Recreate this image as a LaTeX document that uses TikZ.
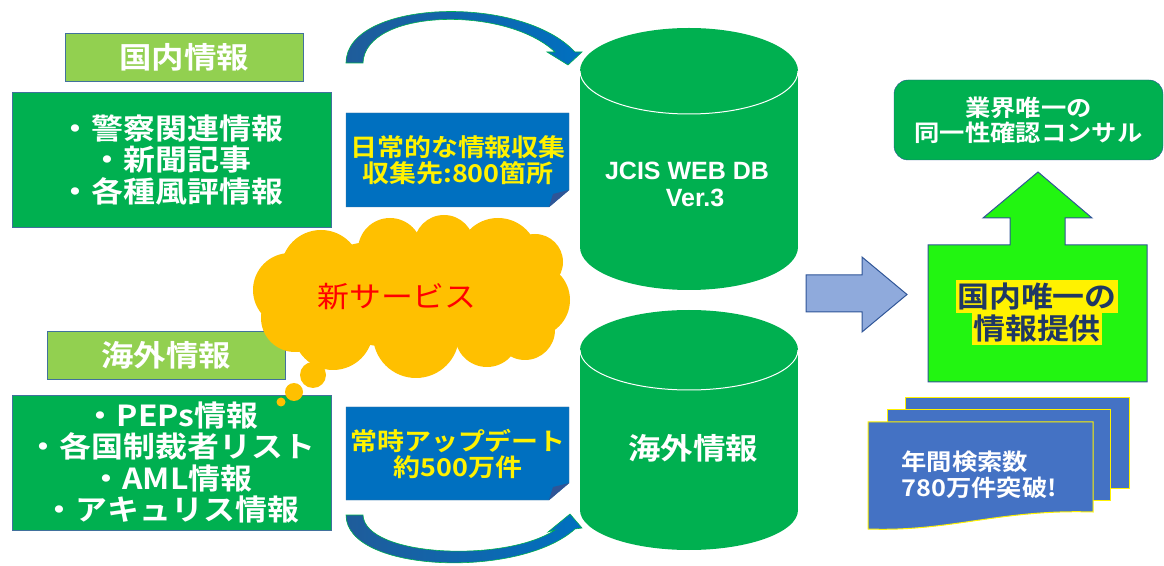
\documentclass[tikz,border=0pt]{standalone}
\usepackage{fontspec}
\setmainfont{Noto Sans CJK JP}[BoldFont={* Bold},FakeStretch=1.1]
\newfontfamily\dbfont{Liberation Sans Bold}

\definecolor{lgreen}{HTML}{92D050}
\definecolor{dgreen}{HTML}{00B050}
\definecolor{noteblue}{HTML}{0070C0}
\definecolor{edgeblue}{HTML}{41719C}
\definecolor{navy}{HTML}{2F5597}
\definecolor{cloudy}{HTML}{FFC000}
\definecolor{arrblue}{HTML}{8FAADC}
\definecolor{brightgreen}{HTML}{22F511}
\definecolor{docblue}{HTML}{4472C4}
\definecolor{textnavy}{HTML}{1F3864}
\definecolor{arcdark}{HTML}{1F5C9A}

\begin{document}
\begin{tikzpicture}[x=1pt,y=1pt,
  labelbox/.style={draw=edgeblue,fill=lgreen,text=white,minimum width=238,minimum height=48,font=\bfseries\fontsize{29.5}{30}\selectfont},
  listbox/.style={draw=edgeblue,fill=dgreen,text=white,align=center,minimum width=319,minimum height=135,font=\bfseries\fontsize{29}{31.5}\selectfont},
  notetext/.style={text=yellow,align=center,font=\bfseries\fontsize{24.5}{26}\selectfont},
  dbtext/.style={text=white,align=center,font=\bfseries\fontsize{25.5}{27}\selectfont},
  docbox/.style={draw=yellow,fill=docblue,line width=1},
  arcstyle/.style={draw=dgreen,left color=arcdark,right color=noteblue,line width=0.6}]

\useasboundingbox (0,0) rectangle (1164,565);

% domestic side
\node[labelbox] (dom) at (184,508) {国内情報};
\node[listbox] (domlist) at (171.5,405.5) {・警察関連情報\\・新聞記事\\・各種風評情報};

% overseas side
\node[labelbox] (ovs) at (166,210) {海外情報};
\node[listbox] (ovslist) at (171.5,102.5) {・PEPs情報\\・各国制裁者リスト\\・AML情報\\・アキュリス情報};

% curved arrows
\path[arcstyle] (346,502) .. controls (346,565) and (520,572) .. (575,513) -- (582,513) -- (568,500) -- (547,513) -- (555,513) .. controls (505,560) and (365,556) .. (363,502) -- cycle;
\path[arcstyle] (346,50) .. controls (346,-8) and (520,-14) .. (575,36) -- (582,37) -- (570,51) -- (548,33) -- (555,35) .. controls (505,2) and (365,8) .. (363,50) -- cycle;

% notes
\draw[edgeblue,fill=noteblue] (346,452) -- (569,452) -- (569,375) -- (549,358) -- (346,358) -- cycle;
\fill[navy] (569,375) -- (549,358) -- (553,371) -- cycle;
\node[notetext] (note1) at (458,405) {日常的な情報収集\\収集先:800箇所};
\draw[edgeblue,fill=noteblue] (346,158) -- (569,158) -- (569,82) -- (549,65) -- (346,65) -- cycle;
\fill[navy] (569,82) -- (549,65) -- (553,78) -- cycle;
\node[notetext] (note2) at (458,111.5) {常時アップデート\\約500万件};

% new service cloud
\fill[cloudy] (411,272) ellipse[x radius=125,y radius=55];
\foreach \cx/\cy/\r in {321/295/40,390/315/32,444/320/30,498/307/40,535/303/28,533/265/37,
  525/235/30,487/230/32,416/230/43,333/235/40,295/247/34,290/275/37}
  \fill[cloudy] (\cx,\cy) circle[radius=\r];
\fill[cloudy] (313,190) circle[radius=13];
\fill[cloudy] (294,173) circle[radius=9];
\fill[cloudy] (281,163) circle[radius=4.5];
\node[text=red,font=\fontsize{29}{30}\selectfont] (newsvc) at (397,268) {新サービス};

% databases
\fill[dgreen] (580,494) rectangle (798,318);
\fill[dgreen] (689,318) ellipse[x radius=109,y radius=43];
\fill[dgreen] (689,494) ellipse[x radius=109,y radius=43];
\draw[white,line width=1] (580,494) arc[start angle=180,end angle=360,x radius=109,y radius=43];
\node[dbtext,font=\dbfont\fontsize{25}{27}\selectfont] (db1) at (687,381) {JCIS WEB DB\\\hspace{16pt}Ver.3};

\fill[dgreen] (580,215) rectangle (798,55);
\fill[dgreen] (689,55) ellipse[x radius=109,y radius=40];
\fill[dgreen] (689,215) ellipse[x radius=109,y radius=40];
\draw[white,line width=1] (580,215) arc[start angle=180,end angle=360,x radius=109,y radius=40];
\node[dbtext,font=\bfseries\fontsize{29.5}{30}\selectfont] (db2) at (693,117) {海外情報};

% right side
\draw[navy,fill=arrblue,line width=1] (806,290) -- (862,290) -- (862,308) -- (907,270.5) -- (862,233) -- (862,253) -- (806,253) -- cycle;
\draw[navy,fill=brightgreen,line width=1] (928,183) -- (1147,183) -- (1147,320) -- (1065,320) -- (1065,347) -- (1092,347) -- (1038,393) -- (983,347) -- (1010,347) -- (1010,320) -- (928,320) -- cycle;
\node[fill=yellow,inner sep=1,minimum height=33,text=textnavy,font=\bfseries\fontsize{29}{31}\selectfont] (only1) at (1037,268.5) {国内唯一の};
\node[fill=yellow,inner sep=1,minimum height=33,text=textnavy,font=\bfseries\fontsize{29}{31}\selectfont] (only2) at (1037,236) {情報提供};

\node[draw=navy,fill=dgreen,rounded corners=14,minimum width=269,minimum height=80,text=white,align=center,font=\bfseries\fontsize{23}{25}\selectfont] (cons) at (1028.5,445) {業界唯一の\\同一性確認コンサル};

\draw[docbox] (905,167) rectangle (1129,77);
\draw[docbox] (887,155) rectangle (1110,65);
\draw[docbox] (868,143) -- (1093,143) -- (1093,53) .. controls (1000,56) and (950,33) .. (868,36) -- cycle;
\node[text=white,align=left,anchor=west,font=\bfseries\fontsize{23}{26}\selectfont] (docs) at (898,90) {年間検索数\\780万件突破!};

\end{tikzpicture}
\end{document}
